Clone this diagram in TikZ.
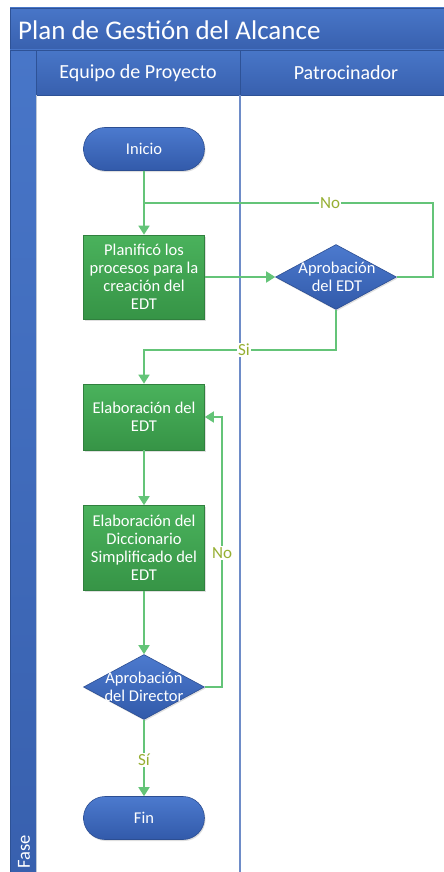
\documentclass[tikz,border=0pt]{standalone}
\usepackage{fontspec}
\setmainfont{Carlito}
\usetikzlibrary{arrows.meta,shapes.geometric,shapes.misc,shadows}

\definecolor{headTop}{RGB}{72,118,200}
\definecolor{headBot}{RGB}{56,96,174}
\definecolor{headEdge}{RGB}{46,82,150}
\definecolor{blueTop}{RGB}{76,122,206}
\definecolor{blueBot}{RGB}{50,90,170}
\definecolor{blueEdge}{RGB}{44,78,146}
\definecolor{greenTop}{RGB}{74,178,92}
\definecolor{greenBot}{RGB}{54,148,70}
\definecolor{greenEdge}{RGB}{48,128,62}
\definecolor{flowgreen}{RGB}{100,196,120}
\definecolor{lblgreen}{RGB}{150,175,50}
\definecolor{laneline}{RGB}{110,140,200}
\definecolor{frameline}{RGB}{190,200,215}

\newcommand\nodefont{\fontsize{16.5}{18}\selectfont}
\newcommand\lblfont{\fontsize{17}{18}\selectfont}

\tikzset{
  headband/.style={top color=headTop, bottom color=headBot, draw=headEdge, line width=0.6pt},
  terminal/.style={rounded rectangle, minimum width=121pt, minimum height=43pt, inner sep=0pt,
    top color=blueTop, bottom color=blueBot, draw=blueEdge, line width=0.6pt,
    text=white, font=\nodefont, drop shadow={opacity=0.25, shadow xshift=1pt, shadow yshift=-1.5pt}},
  procbox/.style={rectangle, minimum width=121pt, inner sep=0pt, align=center,
    top color=greenTop, bottom color=greenBot, draw=greenEdge, line width=0.6pt,
    text=white, font=\nodefont, drop shadow={opacity=0.25, shadow xshift=1pt, shadow yshift=-1.5pt}},
  decision/.style={diamond, minimum width=121pt, minimum height=65pt, inner sep=0pt, aspect=1.85,
    top color=blueTop, bottom color=blueBot, draw=blueEdge, line width=0.6pt,
    drop shadow={opacity=0.25, shadow xshift=1pt, shadow yshift=-1.5pt}},
  dtext/.style={text=white, align=center, font=\nodefont, inner sep=0pt},
  link/.style={draw=flowgreen, line width=1.6pt},
  flow/.style={link, -{Triangle[length=9pt,width=11pt]}},
  lbl/.style={fill=white, text=lblgreen, font=\lblfont, inner sep=1pt},
}

\begin{document}
\begin{tikzpicture}[x=1pt,y=-1pt]
\useasboundingbox (0,0) rectangle (444,872);
\fill[white] (0,0) rectangle (444,872);

% pool frame, title band and lane headers
\draw[frameline, line width=0.8pt] (10,8) rectangle (452,880);
\draw[headband] (10,8) rectangle (452,50);
\node[anchor=west, text=white, font=\fontsize{27}{30}\selectfont, inner sep=0pt] (title) at (18,30) {Plan de Gestión del Alcance};
\draw[headband] (10,50) rectangle (36,880);
\draw[headband] (36,50) rectangle (240,95);
\draw[headband] (240,50) rectangle (452,95);
\node[text=white, font=\fontsize{20}{22}\selectfont, inner sep=0pt] (lane1) at (138,73) {Equipo de Proyecto};
\node[text=white, font=\fontsize{20}{22}\selectfont, inner sep=0pt] (lane2) at (346,73) {Patrocinador};
\node[rotate=90, anchor=west, text=white, font=\fontsize{18.5}{20}\selectfont, inner sep=0pt] (phase) at (24,869) {Fase};

% lane bodies
\draw[frameline, line width=0.8pt] (36,95) -- (36,880);
\draw[laneline, line width=1.6pt] (240,95) -- (240,880);

% flow nodes
\node[terminal] (start) at (144,149) {Inicio};
\node[procbox, minimum height=84pt] (plan) at (144,277) {Planificó los\\procesos para la\\creación del\\EDT};
\node[decision] (appr1) at (336,277) {};
\node[dtext] (appr1t) at (337,277) {Aprobación\\del EDT};
\node[procbox, minimum height=66pt] (wbs) at (144,417) {Elaboración del\\EDT};
\node[procbox, minimum height=85pt] (dict) at (144,548) {Elaboración del\\Diccionario\\Simplificado del\\EDT};
\node[decision] (appr2) at (144,687) {};
\node[dtext] (appr2t) at (144,687) {Aprobación\\del Director};
\node[terminal] (finish) at (144,818) {Fin};

% connectors
\coordinate (join) at (144,203);
\draw[flow] (start) -- (plan);
\draw[link] (appr1.east) -- (433,277) -- (433,203) -- (join);
\node[lbl] (no1) at (330,203) {No};
\draw[flow] (plan) -- (appr1);
\draw[flow] (appr1.south) -- (336,350) -- (144,350) -- (wbs.north);
\node[lbl] (yes1) at (244,350) {Si};
\draw[flow] (wbs) -- (dict);
\draw[flow] (dict) -- (appr2);
\draw[flow] (appr2.east) -- (222,687) -- (222,417) -- (wbs.east);
\node[lbl] (no2) at (222,553) {No};
\draw[flow] (appr2.south) -- (finish.north);
\node[lbl] (yes2) at (144,760) {Sí};
\end{tikzpicture}
\end{document}
